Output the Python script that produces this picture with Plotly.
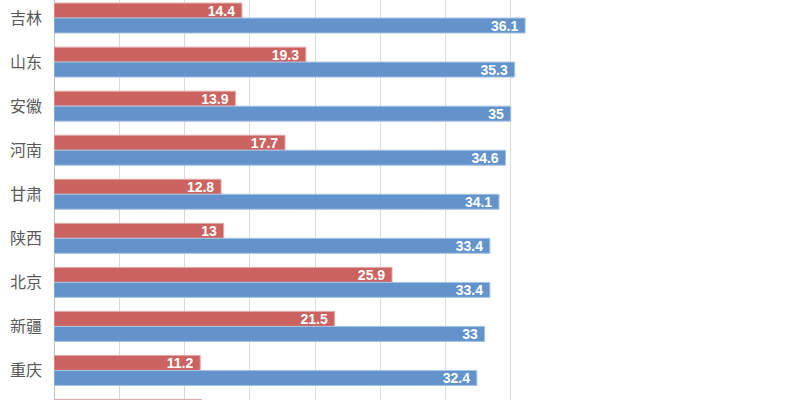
import plotly.graph_objects as go

categories = ["吉林", "山东", "安徽", "河南", "甘肃", "陕西", "北京", "新疆", "重庆", ""]
red_values = [14.4, 19.3, 13.9, 17.7, 12.8, 13, 25.9, 21.5, 11.2, 11.3]
blue_values = [36.1, 35.3, 35, 34.6, 34.1, 33.4, 33.4, 33, 32.4, None]
x_ticks = [0, 5, 10, 15, 20, 25, 30, 35, 40]

pos = list(range(len(categories)))
n_visible = 9


def labels(vals):
    out = []
    for i, v in enumerate(vals):
        if v is None or i >= n_visible:
            out.append("")
        else:
            out.append(f"{v:g}\u00a0")
    return out


fig = go.Figure()
fig.add_trace(go.Bar(
    y=pos, x=red_values, orientation="h",
    marker=dict(color="#CB6461", line=dict(color="#E4A7A5", width=1)),
    text=labels(red_values), texttemplate="%{text}",
    textposition="inside", insidetextanchor="end",
    textangle=0, constraintext="none",
    textfont=dict(color="white", size=14, family="Liberation Sans", weight="bold"),
    showlegend=False, hoverinfo="skip",
))
fig.add_trace(go.Bar(
    y=pos, x=blue_values, orientation="h",
    marker=dict(color="#6393CB", line=dict(color="#A7C2E3", width=1)),
    text=labels(blue_values), texttemplate="%{text}",
    textposition="inside", insidetextanchor="end",
    textangle=0, constraintext="none",
    textfont=dict(color="white", size=14, family="Liberation Sans", weight="bold"),
    showlegend=False, hoverinfo="skip",
))

fig.update_layout(
    width=800, height=400,
    margin=dict(l=54, r=224, t=0, b=0),
    paper_bgcolor="white", plot_bgcolor="white",
    barmode="group", bargap=0.32, bargroupgap=0.0,
    xaxis=dict(range=[0, 40], tickvals=x_ticks, showticklabels=False,
               showgrid=True, gridcolor="#D9D9D9", gridwidth=1,
               zeroline=True, zerolinecolor="#BFBFBF", zerolinewidth=1,
               fixedrange=True),
    yaxis=dict(range=[8.67, -0.41], tickvals=pos[:n_visible], ticktext=categories[:n_visible],
               showgrid=False, zeroline=False, automargin=False,
               ticks="", ticklabelstandoff=11, fixedrange=True,
               tickfont=dict(size=16, color="#595959", family="Noto Sans CJK SC")),
)

fig.write_html("out.html", config={"displayModeBar": False},
               post_script="document.body.style.margin='0';")
